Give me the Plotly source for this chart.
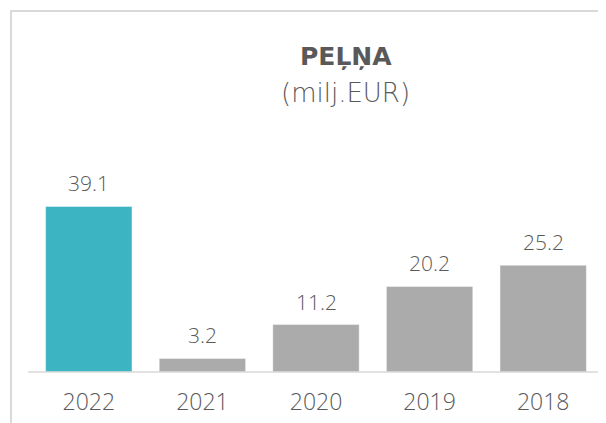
import plotly.graph_objects as go

years = ["2022", "2021", "2020", "2019", "2018"]
values = [39.1, 3.2, 11.2, 20.2, 25.2]
bar_colors = ["#3DB4C2", "#ABABAB", "#ABABAB", "#ABABAB", "#ABABAB"]
title = "PEĻŅA"
subtitle = "(milj.EUR)"

FONT = "Open Sans"
TXT = "#595959"

OFF = 8  # page body margin
W, H = 606 - OFF, 423 - OFF
ml, mr, mt, mb = 32 - OFF, 6, 130 - OFF, 49
pw, ph = W - ml - mr, H - mt - mb


def px_x(p):  # window pixel -> paper x
    return (p - OFF - ml) / pw


def px_y(p):  # window pixel -> paper y
    return (H - mb - (p - OFF)) / ph


fig = go.Figure(go.Bar(
    x=years, y=values,
    marker=dict(color=bar_colors, line=dict(color="rgba(255,255,255,0.4)", width=1)),
    hoverinfo="skip",
))

ann = []
for i, v in enumerate(values):
    ann.append(dict(x=i, y=v, xref="x", yref="y", text=f"{v:.1f}", showarrow=False,
                    yanchor="middle", yshift=23,
                    font=dict(family=FONT, size=21, color=TXT, weight=300)))

ann.append(dict(x=px_x(346), y=px_y(56), xref="paper", yref="paper", text=f"<b>{title}</b>",
                xanchor="center", yanchor="middle", showarrow=False,
                font=dict(family="DejaVu Sans", size=25, color=TXT)))
ann.append(dict(x=px_x(345), y=px_y(93), xref="paper", yref="paper", text=subtitle,
                xanchor="center", yanchor="middle", showarrow=False,
                font=dict(family="DejaVu Sans", size=26, color=TXT, weight=200)))

shapes = [
    dict(type="line", xref="paper", yref="paper", x0=px_x(10), x1=px_x(620), y0=px_y(10), y1=px_y(10),
         line=dict(color="#D9D9D9", width=2)),
    dict(type="line", xref="paper", yref="paper", x0=px_x(11), x1=px_x(11), y0=px_y(10), y1=px_y(440),
         line=dict(color="#D9D9D9", width=2)),
    dict(type="line", xref="paper", yref="paper", x0=px_x(28), x1=px_x(620), y0=0, y1=0,
         line=dict(color="#D9D9D9", width=1.5)),
]

fig.update_layout(
    width=W, height=H,
    margin=dict(l=ml, r=mr, t=mt, b=mb),
    paper_bgcolor="white", plot_bgcolor="white",
    bargap=0.24,
    showlegend=False,
    xaxis=dict(type="category", range=[-0.5, 4.5], showline=False, ticks="", showgrid=False,
               tickfont=dict(family=FONT, size=23, color=TXT, weight=300), ticklabelstandoff=14),
    yaxis=dict(visible=False, range=[0, ph / 4.27], showgrid=False, zeroline=False),
    annotations=ann,
    shapes=shapes,
)

fig.write_html("out.html")
